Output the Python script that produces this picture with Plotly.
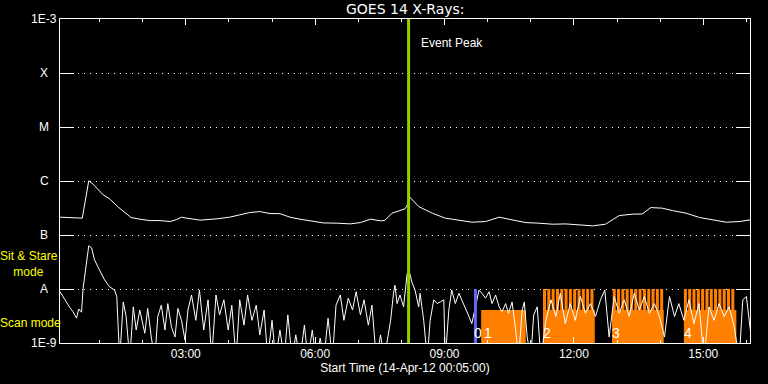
import numpy as np
import pandas as pd
import plotly.graph_objects as go

DAY = pd.Timestamp("2012-04-14")

# ---- data: times in minutes after 00:00 UT, flux as log10(W/m^2) ----
long_min = [5, 32, 36, 45, 51, 65, 74, 85, 97, 104, 116, 130, 144, 158, 167, 174, 181, 200,
            223, 241, 255, 269, 283, 297, 311, 325, 339, 353, 371, 390, 409, 423, 437, 451,
            457, 467, 474, 485, 488, 491, 504, 523, 541, 560, 578, 597, 616, 634, 653, 671,
            690, 709, 727, 746, 764, 783, 802, 815, 827, 843, 857, 876, 895, 913, 932, 950, 965]
long_log = [-6.670, -6.688, -6.688, -5.996, -6.058, -6.256, -6.330, -6.473, -6.596, -6.677,
            -6.707, -6.733, -6.733, -6.751, -6.715, -6.670, -6.688, -6.725, -6.701, -6.670,
            -6.627, -6.584, -6.566, -6.603, -6.605, -6.670, -6.707, -6.733, -6.776, -6.781,
            -6.794, -6.770, -6.707, -6.738, -6.730, -6.596, -6.566, -6.516, -6.450, -6.288,
            -6.473, -6.596, -6.688, -6.733, -6.763, -6.751, -6.670, -6.720, -6.770, -6.781,
            -6.800, -6.795, -6.813, -6.831, -6.800, -6.640, -6.614, -6.610, -6.492, -6.503,
            -6.547, -6.596, -6.677, -6.720, -6.763, -6.751, -6.720]

short_min = [5, 9, 14, 18, 23, 28, 31, 35, 37, 42, 45, 49, 53, 60, 67, 74, 81, 84, 88, 93, 97,
             102, 107, 111, 116, 123, 127, 132, 137, 141, 146, 151, 155, 160, 165, 169, 174, 179,
             183, 188, 194, 199, 205, 211, 216, 222, 227, 233, 239, 244, 250, 255, 261, 266, 272,
             278, 283, 289, 294, 300, 305, 311, 317, 322, 328, 333, 339, 345, 350, 356, 361, 367,
             372, 378, 384, 389, 395, 400, 406, 412, 417, 423, 428, 434, 439, 445, 451, 456, 462,
             465, 469, 471, 474, 478, 483, 488, 491, 495, 499, 504, 506, 511, 516, 520, 525, 530,
             534, 539, 541, 546, 550, 555, 560, 564, 569, 574, 578, 583, 588, 592, 597, 602, 606,
             611, 616, 620, 625, 629, 634, 639, 643, 648, 651, 655, 660, 664, 669, 674, 681, 688,
             695, 701, 708, 715, 722, 729, 736, 743, 750, 757, 763, 769, 776, 783, 790, 797, 804,
             811, 818, 825, 832, 839, 846, 853, 860, 866, 873, 880, 887, 894, 901, 908, 915, 922,
             929, 936, 943, 950, 955, 960, 964, 966]
short_log = [-8.05, -8.14, -8.26, -8.33, -8.42, -8.54, -8.37, -8.43, -8.00, -7.52, -7.20, -7.24,
             -7.46, -7.65, -7.83, -7.96, -8.02, -8.14, -9.30, -8.24, -8.51, -9.30, -8.33, -8.76,
             -8.39, -8.82, -8.36, -8.89, -9.30, -8.51, -8.30, -8.76, -8.27, -8.70, -8.89, -8.36,
             -8.58, -8.95, -8.39, -8.11, -8.58, -8.02, -8.76, -8.20, -9.30, -8.11, -8.48, -8.20,
             -8.76, -8.30, -9.30, -8.20, -8.67, -8.11, -8.58, -8.30, -8.85, -8.39, -9.30, -8.58,
             -9.30, -8.76, -9.30, -8.48, -9.30, -8.85, -9.30, -8.67, -9.30, -8.76, -9.30, -8.91,
             -9.30, -8.54, -9.30, -8.30, -8.11, -8.58, -8.17, -8.39, -8.05, -8.48, -8.20, -8.67,
             -8.30, -9.30, -8.85, -9.30, -8.76,
             -8.58, -8.08, -7.93, -8.27, -8.11, -8.33, -7.71, -7.68, -7.89, -8.02, -8.33, -8.08,
             -8.58, -9.30, -8.58, -8.20, -8.27, -8.24, -8.20, -9.30, -8.39, -8.02, -8.27, -8.08,
             -8.20, -8.33, -8.51, -8.64, -8.33, -8.02, -8.08, -8.17, -8.05, -8.27, -8.11, -8.33,
             -8.42, -8.27, -8.45, -8.24, -8.76, -9.30, -8.39, -8.24, -8.89, -9.30, -8.48,
             -8.33, -9.30, -8.58, -8.20, -8.51, -8.08, -8.64, -8.27, -8.58, -8.14, -8.45, -8.27,
             -8.51, -8.20, -8.02, -8.89, -8.14, -8.45, -8.20, -8.51, -8.08, -8.39, -8.14, -8.45,
             -8.27, -8.51, -8.89, -8.14, -8.51, -8.27, -8.58, -8.20, -8.64, -8.27, -9.30, -8.33,
             -8.58, -8.27, -8.51, -8.33, -8.70, -9.30, -8.20, -8.14, -8.64, -8.82]

# observing-mode blocks (minutes after 00:00)
scan_start = [591, 677, 773, 873]
scan_end = [653, 749, 845, 946]
scan_level = -8.39          # log10 level of scan-mode bar
stare_level = -8.0          # log10 level of sit & stare bar
stare_start = [677, 683, 689, 695, 701, 707, 713, 719, 725, 731, 737, 743,
               774, 780, 786, 792, 798, 804, 810, 816, 822, 828, 834, 840,
               873, 879, 885, 891, 897, 903, 909, 915, 921, 927, 933, 939]
stare_dur = 4.2
block_labels = ["0", "1", "2", "3", "4"]
block_label_min = [586, 600, 683, 779, 879]
block_label_log = -8.81
pointing_min = 583
event_peak_min = 490
y_labels = ["1E-9", "A", "B", "C", "M", "X", "1E-3"]
y_label_log = [-9, -8, -7, -6, -5, -4, -3]
x_range_min = [5, 965]


def t(m):
    return DAY + pd.to_timedelta(np.asarray(m, dtype=float), unit="min")


def tm(m):
    return DAY + pd.Timedelta(minutes=m)


fig = go.Figure()

# scan-mode blocks and sit & stare stripes
bx, by = [], []
for s, e in zip(scan_start, scan_end):
    bx += [s, s, e, e, s, None]
    by += [-9, scan_level, scan_level, -9, -9, None]
for s in stare_start:
    e = s + stare_dur
    bx += [s, s, e, e, s, None]
    by += [-9, stare_level, stare_level, -9, -9, None]
fig.add_trace(go.Scatter(
    x=[tm(v) if v is not None else None for v in bx],
    y=[10 ** v if v is not None else None for v in by],
    mode="lines", fill="toself", fillcolor="#FF8000",
    line=dict(color="#FF8000", width=0), hoverinfo="skip", showlegend=False))

# GOES curves
fig.add_trace(go.Scatter(x=t(long_min), y=10 ** np.array(long_log), mode="lines",
                         line=dict(color="white", width=1), showlegend=False))
fig.add_trace(go.Scatter(x=t(short_min), y=10 ** np.array(short_log), mode="lines",
                         line=dict(color="white", width=1), showlegend=False))

# pointing marker
fig.add_trace(go.Scatter(x=t([pointing_min, pointing_min]), y=[1e-9, 1e-8], mode="lines",
                         line=dict(color="#6464FF", width=3), showlegend=False))
# event peak
fig.add_trace(go.Scatter(x=t([event_peak_min, event_peak_min]), y=[1e-9, 1e-3], mode="lines",
                         line=dict(color="#99CC00", width=3), showlegend=False))

FONT = "Liberation Sans"
PW = 690.0
ann = []
for lab, v in zip(y_labels, y_label_log):
    ann.append(dict(x=-16 / PW, xref="paper", y=v, yref="y", text=lab, showarrow=False,
                    xanchor="center", yanchor="middle",
                    font=dict(color="white", size=12, family=FONT)))
ann.append(dict(x=-62 / PW, xref="paper", y=-7.53, yref="y",
                text="Sit & Stare<br>&nbsp;&nbsp;&nbsp;&nbsp;mode", align="left",
                showarrow=False, xanchor="left", yanchor="middle",
                font=dict(color="#FFFF00", size=12, family=FONT)))
ann.append(dict(x=-62 / PW, xref="paper", y=-8.63, yref="y", text="Scan mode",
                showarrow=False, xanchor="left", yanchor="middle",
                font=dict(color="#FFFF00", size=12, family=FONT)))
ann.append(dict(x=tm(event_peak_min + 14), xref="x", y=-3.44, yref="y", text="Event Peak",
                showarrow=False, xanchor="left", yanchor="middle",
                font=dict(color="white", size=12, family=FONT)))
for lab, m in zip(block_labels, block_label_min):
    ann.append(dict(x=tm(m), xref="x", y=block_label_log, yref="y", text=lab,
                    showarrow=False, xanchor="center", yanchor="middle",
                    font=dict(color="white", size=14, family=FONT)))
ann.append(dict(x=0.5, xref="paper", y=1, yref="paper", yshift=10, text="GOES 14 X-Rays:",
                showarrow=False, xanchor="center", yanchor="middle",
                font=dict(color="white", size=14, family="DejaVu Sans")))

fig.update_layout(
    width=768, height=384,
    margin=dict(l=60, r=18, t=19, b=41),
    paper_bgcolor="black", plot_bgcolor="black",
    showlegend=False,
    annotations=ann,
    xaxis=dict(
        type="date", range=[tm(x_range_min[0]), tm(x_range_min[1])],
        tick0=tm(180), dtick=3 * 3600000, tickformat="%H:%M",
        ticks="inside", ticklen=6, tickcolor="white", tickwidth=1,
        minor=dict(ticks="inside", ticklen=3, dtick=3600000, tickcolor="white",
                   tick0=tm(60)),
        showline=True, linecolor="white", linewidth=1, mirror="ticks",
        showgrid=False, zeroline=False,
        tickfont=dict(color="white", size=12, family=FONT),
        title=dict(text="Start Time (14-Apr-12 00:05:00)", standoff=0,
                   font=dict(color="white", size=12, family=FONT)),
    ),
    yaxis=dict(
        type="log", range=[-9, -3],
        tickvals=[10.0 ** v for v in y_label_log], showticklabels=False,
        ticks="inside", ticklen=14, tickcolor="white", tickwidth=1,
        showline=True, linecolor="white", linewidth=1, mirror="ticks",
        showgrid=True, gridcolor="white", gridwidth=1, griddash="1px,5px",
        zeroline=False,
    ),
)

# remove the browser's default 8 px page margin so the figure sits at the window origin
fig.write_html("out.html", config={"displayModeBar": False},
               post_script="document.body.style.margin='0px';"
                           "document.body.style.background='black';")
